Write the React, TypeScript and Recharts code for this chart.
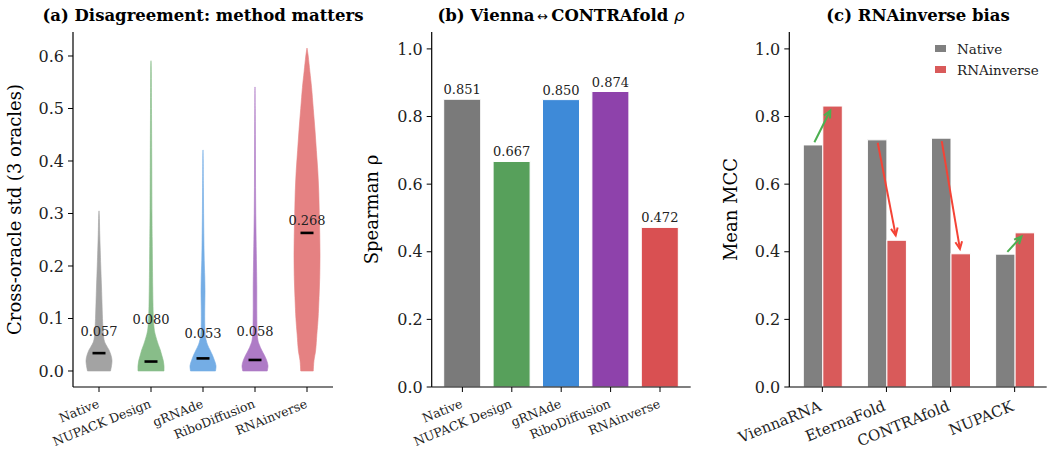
import React from 'react';
import { ComposedChart, BarChart, Bar, XAxis, YAxis, LabelList, Legend, Cell } from 'recharts';

const FONT = '"DejaVu Serif", serif';

// ---------- Panel (a): violins ----------
const violinMethods = ['Native', 'NUPACK Design', 'gRNAde', 'RiboDiffusion', 'RNAinverse'];
const violinMeans = [0.057, 0.08, 0.053, 0.058, 0.268];
const violinMedians = [0.034, 0.018, 0.024, 0.021, 0.263];
const violinMaxima = [0.305, 0.591, 0.421, 0.541, 0.615];
const violinColors = ['#a3a3a3', '#88bd89', '#74ade5', '#ae7bc6', '#e58182'];

const nativeLevels = [0, 0.01, 0.02, 0.03, 0.04, 0.05, 0.06, 0.08, 0.1, 0.13, 0.16, 0.2, 0.23, 0.26, 0.29, 0.305];
const nativeDensity = [23, 25, 26, 24, 20, 14, 10, 8, 7, 6, 5, 3.5, 2.5, 1.5, 0.8, 0];
const nupackLevels = [0, 0.01, 0.02, 0.03, 0.04, 0.05, 0.06, 0.07, 0.08, 0.1, 0.13, 0.16, 0.2, 0.25, 0.3, 0.4, 0.5, 0.57, 0.591];
const nupackDensity = [26.5, 26.5, 25, 22, 19, 15, 11.5, 8.5, 6.5, 4.8, 4, 3.5, 3, 2.5, 2, 1.5, 1, 0.6, 0];
const grnadeLevels = [0, 0.01, 0.02, 0.03, 0.04, 0.05, 0.06, 0.07, 0.09, 0.12, 0.15, 0.18, 0.21, 0.25, 0.3, 0.35, 0.4, 0.421];
const grnadeDensity = [25, 26, 23, 19, 14, 9, 6, 4.5, 3.5, 3.5, 4, 3.5, 2.5, 1.8, 1.2, 0.8, 0.4, 0];
const riboLevels = [0, 0.01, 0.02, 0.03, 0.04, 0.05, 0.06, 0.08, 0.12, 0.16, 0.2, 0.25, 0.3, 0.35, 0.4, 0.45, 0.5, 0.541];
const riboDensity = [24, 25.5, 23, 18.5, 13, 8.5, 5.5, 4, 3.5, 3.5, 3, 2.2, 1.5, 1.1, 0.9, 0.7, 0.4, 0];
const inverseLevels = [0, 0.02, 0.04, 0.07, 0.1, 0.14, 0.18, 0.22, 0.26, 0.3, 0.34, 0.38, 0.42, 0.46, 0.5, 0.54, 0.57, 0.6, 0.615];
const inverseDensity = [13, 14.5, 18, 20.5, 23, 25, 26.5, 27, 26.5, 25.5, 24.5, 22.5, 19.5, 16.5, 13, 9.5, 6, 2.5, 0];

const violinLevels = [nativeLevels, nupackLevels, grnadeLevels, riboLevels, inverseLevels];
const violinDensities = [nativeDensity, nupackDensity, grnadeDensity, riboDensity, inverseDensity];

const violinData = violinMethods.map((name, i) => ({
  name,
  span: [0, violinMaxima[i]],
  mean: violinMeans[i],
  median: violinMedians[i],
  levels: violinLevels[i],
  density: violinDensities[i],
  color: violinColors[i],
}));

// ---------- Panel (b): Spearman ----------
const rhoMethods = ['Native', 'NUPACK Design', 'gRNAde', 'RiboDiffusion', 'RNAinverse'];
const rhoValues = [0.851, 0.667, 0.85, 0.874, 0.472];
const rhoColors = ['#7a7a7a', '#57a05b', '#3e8ad8', '#8e42ab', '#d95052'];
const rhoData = rhoMethods.map((name, i) => ({ name, rho: rhoValues[i] }));

// ---------- Panel (c): MCC ----------
const oracles = ['ViennaRNA', 'EternaFold', 'CONTRAfold', 'NUPACK'];
const nativeMCC = [0.716, 0.731, 0.736, 0.393];
const inverseMCC = [0.831, 0.434, 0.394, 0.456];
const mccSeries = ['Native', 'RNAinverse'];
const mccColors = ['#808080', '#d95a5a'];
const mccData = oracles.map((name, i) => ({ name, native: nativeMCC[i], inverse: inverseMCC[i] }));

const yTicks01 = [0, 0.1, 0.2, 0.3, 0.4, 0.5, 0.6];
const yTicksRho = [0, 0.2, 0.4, 0.6, 0.8, 1.0];

// smooth path through points (Catmull-Rom)
function smooth(pts: number[][]) {
  let d = '';
  for (let i = 0; i < pts.length - 1; i++) {
    const p0 = pts[Math.max(0, i - 1)];
    const p1 = pts[i];
    const p2 = pts[i + 1];
    const p3 = pts[Math.min(pts.length - 1, i + 2)];
    const c1x = p1[0] + (p2[0] - p0[0]) / 6;
    const c1y = p1[1] + (p2[1] - p0[1]) / 6;
    const c2x = p2[0] - (p3[0] - p1[0]) / 6;
    const c2y = p2[1] - (p3[1] - p1[1]) / 6;
    d += ` C ${c1x} ${c1y} ${c2x} ${c2y} ${p2[0]} ${p2[1]}`;
  }
  return d;
}

const ViolinShape = (props: any) => {
  const { x, y, width, height, payload } = props;
  if (!payload) return null;
  const cx = x + width / 2;
  const base = y + height;
  const top = payload.span[1];
  const toPx = (v: number) => base - (v / top) * height;
  const maxD = Math.max(...payload.density);
  const half = (dd: number) => (dd / maxD) * (width / 2);
  const right = payload.levels.map((v: number, i: number) => [cx + half(payload.density[i]), toPx(v)]);
  const left = payload.levels
    .map((v: number, i: number) => [cx - half(payload.density[i]), toPx(v)])
    .reverse();
  const d = `M ${right[0][0]} ${right[0][1]}` + smooth(right) + ` L ${left[0][0]} ${left[0][1]}` + smooth(left) + ' Z';
  const my = toPx(payload.median);
  const meanY = toPx(payload.mean);
  return (
    <g>
      <path d={d} fill={payload.color} stroke={payload.color} strokeWidth={0.6} />
      <line x1={cx - width / 4} x2={cx + width / 4} y1={my} y2={my} stroke="#000" strokeWidth={2.6} />
      <text x={cx} y={meanY - 5} textAnchor="middle" fontSize={13} fontFamily={FONT} fill="#222">
        {payload.mean.toFixed(3)}
      </text>
    </g>
  );
};

const makeAngledTick = (fontSize: number, angle: number, dy: number, dx: number) => (props: any) => {
  const { x, y, payload } = props;
  const tx = x + dx;
  const ty = y + dy;
  return (
    <text
      x={tx}
      y={ty}
      transform={`rotate(${-angle}, ${tx}, ${ty})`}
      textAnchor="end"
      fontSize={fontSize}
      fontFamily={FONT}
      fill="#222"
    >
      {payload.value}
    </text>
  );
};

const SmallTick = makeAngledTick(12.5, 22, 13, 1);
const BigTick = makeAngledTick(15, 22, 16, 0);

const InverseShape = (props: any) => {
  const { x, y, width, height, payload, fill } = props;
  if (!payload) return null;
  const base = y + height;
  const toPx = (v: number) => base - (v / payload.inverse) * height;
  const sx0 = x - width / 2;
  const sy0 = toPx(payload.native);
  const ex0 = x + width / 2;
  const ey0 = y;
  const dx = ex0 - sx0;
  const dy = ey0 - sy0;
  const len = Math.sqrt(dx * dx + dy * dy);
  const ux = dx / len;
  const uy = dy / len;
  const sx = sx0 + ux * 3;
  const sy = sy0 + uy * 3;
  const ex = ex0 - ux * 5;
  const ey = ey0 - uy * 5;
  const color = payload.inverse > payload.native ? '#4caf50' : '#f44336';
  const hl = 8;
  const ang = (25 * Math.PI) / 180;
  const rot = (a: number) => [
    ex - hl * (ux * Math.cos(a) - uy * Math.sin(a)),
    ey - hl * (ux * Math.sin(a) + uy * Math.cos(a)),
  ];
  const h1 = rot(ang);
  const h2 = rot(-ang);
  return (
    <g>
      <rect x={x} y={y} width={width} height={height} fill={fill} stroke="#fff" strokeWidth={1} />
      <line x1={sx} y1={sy} x2={ex} y2={ey} stroke={color} strokeWidth={2} />
      <path d={`M ${h1[0]} ${h1[1]} L ${ex} ${ey} L ${h2[0]} ${h2[1]}`} fill="none" stroke={color} strokeWidth={2} />
    </g>
  );
};

const renderLegend = (props: any) => {
  const { payload } = props;
  return (
    <div style={{ fontFamily: FONT, fontSize: 13.5, color: '#222' }}>
      {(payload || []).map((p: any, i: number) => (
        <div key={i} style={{ display: 'flex', alignItems: 'center', height: 21 }}>
          <span style={{ display: 'inline-block', width: 11, height: 7, background: p.color, marginRight: 11 }} />
          <span>{p.value}</span>
        </div>
      ))}
    </div>
  );
};

const tickStyle = { fontSize: 16, fontFamily: FONT, fill: '#222' };
const axisLine = { stroke: '#000', strokeWidth: 1.2 };
const tickLine = { stroke: '#000', strokeWidth: 1 };

export default function App() {
  return (
    <div style={{ position: 'absolute', left: 0, top: 0, width: 1047, height: 451, background: '#fff', overflow: 'hidden' }}>
      <div style={{ position: 'absolute', left: 0, top: 0 }}>
        <ComposedChart width={350} height={451} data={violinData} margin={{ top: 32, right: 17, bottom: 0, left: 0 }}>
          <XAxis dataKey="name" interval={0} height={64} tickSize={5} tickLine={tickLine} axisLine={axisLine} tick={SmallTick} />
          <YAxis
            type="number"
            width={73}
            domain={[-0.0305, 0.6457]}
            allowDataOverflow
            ticks={yTicks01}
            tickFormatter={(v: number) => v.toFixed(1)}
            tick={tickStyle}
            tickSize={5}
            tickMargin={4}
            tickLine={tickLine}
            axisLine={axisLine}
          />
          <Bar dataKey="span" barSize={26} isAnimationActive={false} shape={ViolinShape} />
        </ComposedChart>
      </div>
      <div style={{ position: 'absolute', left: 350, top: 0 }}>
        <BarChart width={350} height={451} data={rhoData} margin={{ top: 32, right: 9.3, bottom: 0, left: 0 }}>
          <XAxis dataKey="name" interval={0} height={64} padding={{ left: 6, right: 6 }} tickSize={5} tickLine={tickLine} axisLine={axisLine} tick={SmallTick} />
          <YAxis
            type="number"
            width={81.7}
            domain={[0, 1.05]}
            allowDataOverflow
            ticks={yTicksRho}
            tickFormatter={(v: number) => v.toFixed(1)}
            tick={tickStyle}
            tickSize={5}
            tickMargin={4}
            tickLine={tickLine}
            axisLine={axisLine}
          />
          <Bar dataKey="rho" barSize={37} isAnimationActive={false} stroke="#fff" strokeWidth={1}>
            {rhoData.map((d, i) => (
              <Cell key={d.name} fill={rhoColors[i]} />
            ))}
            <LabelList
              dataKey="rho"
              position="top"
              offset={5}
              formatter={(v: any) => Number(v).toFixed(3)}
              style={{ fontSize: 13, fontFamily: FONT, fill: '#222' }}
            />
          </Bar>
        </BarChart>
      </div>
      <div style={{ position: 'absolute', left: 700, top: 0 }}>
        <BarChart width={347} height={451} data={mccData} barGap={0} margin={{ top: 32, right: 0.3, bottom: 0, left: 0 }}>
          <XAxis dataKey="name" interval={0} height={64} padding={{ left: 1, right: 0 }} tickSize={5} tickLine={tickLine} axisLine={axisLine} tick={BigTick} />
          <YAxis
            type="number"
            width={89.3}
            domain={[0, 1.05]}
            allowDataOverflow
            ticks={yTicksRho}
            tickFormatter={(v: number) => v.toFixed(1)}
            tick={tickStyle}
            tickSize={5}
            tickMargin={4}
            tickLine={tickLine}
            axisLine={axisLine}
          />
          <Legend
            layout="vertical"
            align="center"
            verticalAlign="middle"
            content={renderLegend}
            wrapperStyle={{ position: 'absolute', left: 235, top: 38, width: 112 }}
          />
          <Bar dataKey="native" name={mccSeries[0]} fill={mccColors[0]} barSize={19.5} isAnimationActive={false} stroke="#fff" strokeWidth={1} />
          <Bar dataKey="inverse" name={mccSeries[1]} fill={mccColors[1]} barSize={19.5} isAnimationActive={false} shape={InverseShape} />
        </BarChart>
      </div>
      <svg width={1047} height={451} style={{ position: 'absolute', left: 0, top: 0, pointerEvents: 'none' }}>
        <g fontFamily={FONT} fill="#000">
          <text x={203} y={21} textAnchor="middle" fontSize={16.5} fontWeight="bold">
            (a) Disagreement: method matters
          </text>
          <text x={561} y={21} textAnchor="middle" fontSize={16.5} fontWeight="bold">
            (b) Vienna
            <tspan dx={3} fontWeight="normal" fontFamily='"DejaVu Sans", sans-serif' fontSize={13}>{'\u2194'}</tspan>
            <tspan dx={3}>CONTRAfold </tspan>
            <tspan fontWeight="normal" fontStyle="italic" fontFamily='"DejaVu Sans", sans-serif'>{'\u03C1'}</tspan>
          </text>
          <text x={918} y={21} textAnchor="middle" fontSize={16.5} fontWeight="bold">
            (c) RNAinverse bias
          </text>
          <text x={21} y={209.5} transform="rotate(-90, 21, 209.5)" textAnchor="middle" fontSize={18}>
            Cross-oracle std (3 oracles)
          </text>
          <text x={378} y={209.5} transform="rotate(-90, 378, 209.5)" textAnchor="middle" fontSize={18}>
            Spearman {'\u03C1'}
          </text>
          <text x={737} y={209.5} transform="rotate(-90, 737, 209.5)" textAnchor="middle" fontSize={18}>
            Mean MCC
          </text>
        </g>
      </svg>
    </div>
  );
}
